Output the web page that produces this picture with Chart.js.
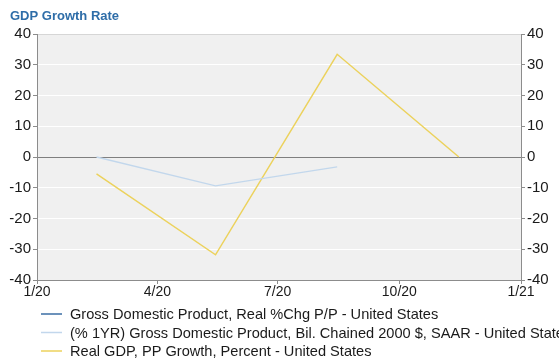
<!DOCTYPE html>
<html>
<head>
<meta charset="utf-8">
<script src="https://cdn.jsdelivr.net/npm/chart.js@4/dist/chart.umd.min.js"></script>
<style>
  html, body { margin: 0; padding: 0; background: #ffffff; }
  #wrap { position: relative; width: 559px; height: 360px; }
</style>
</head>
<body>
<div id="wrap"><canvas id="c" width="559" height="360"></canvas></div>
<script>
// Quarterly observations, dated at the middle of each quarter
const chartTitle = 'GDP Growth Rate';
const categories = ['2020-02-15', '2020-05-15', '2020-08-15', '2020-11-15'];
const realChgPP = [null, null, null, null];
const yoyChained = [0.0, -9.4, -3.2, null];
const realGdpPP = [-5.5, -31.8, 33.4, 0.0];
const seriesLabels = [
  'Gross Domestic Product, Real %Chg P/P - United States',
  '(% 1YR) Gross Domestic Product, Bil. Chained 2000 $, SAAR - United States',
  'Real GDP, PP Growth, Percent - United States'
];
const xTickDates = ['2020-01-01', '2020-04-01', '2020-07-01', '2020-10-01', '2021-01-01'];
const xTickLabels = ['1/20', '4/20', '7/20', '10/20', '1/21'];
const yMin = -40, yMax = 40, yStep = 10;

const origin = Date.parse('2020-01-01T00:00:00Z');
const dayOf = d => (Date.parse(d + 'T00:00:00Z') - origin) / 864e5;
const toPoints = vals => categories.map((d, i) => ({ x: dayOf(d), y: vals[i] }));

const FONT = "'Liberation Sans', Arial, sans-serif";

const plotBackground = {
  id: 'plotBackground',
  beforeDraw(chart) {
    const { ctx, chartArea: a } = chart;
    ctx.save();
    ctx.fillStyle = '#f0f0f0';
    ctx.fillRect(a.left, a.top, a.right - a.left, a.bottom - a.top);
    ctx.restore();
  }
};

const titleAndLegend = {
  id: 'titleAndLegend',
  afterDraw(chart) {
    const ctx = chart.ctx;
    ctx.save();
    ctx.font = 'bold 13px ' + FONT;
    ctx.fillStyle = '#2e6da8';
    ctx.textBaseline = 'alphabetic';
    ctx.fillText(chartTitle, 10, 19.5);

    ctx.font = '14.6px ' + FONT;
    ctx.textBaseline = 'middle';
    chart.data.datasets.forEach((ds, i) => {
      const y = 314 + i * 18.5;
      ctx.strokeStyle = ds.borderColor;
      ctx.lineWidth = 1.5;
      ctx.beginPath();
      ctx.moveTo(41, y);
      ctx.lineTo(62, y);
      ctx.stroke();
      ctx.fillStyle = '#1a1a1a';
      ctx.fillText(ds.label, 70, y + 1);
    });
    ctx.restore();
  }
};

const xFont = { family: FONT, size: 14 };
const yFont = { family: FONT, size: 15 };

new Chart(document.getElementById('c'), {
  type: 'line',
  data: {
    datasets: [
      { label: seriesLabels[0], data: toPoints(realChgPP), borderColor: '#3b6ea5', borderWidth: 1.2 },
      { label: seriesLabels[1], data: toPoints(yoyChained), borderColor: '#c2d7ec', borderWidth: 1.3 },
      { label: seriesLabels[2], data: toPoints(realGdpPP), borderColor: '#ecd25c', borderWidth: 1.5 }
    ]
  },
  options: {
    responsive: false,
    animation: false,
    devicePixelRatio: 1,
    spanGaps: false,
    layout: { padding: { left: 0, right: 0, top: 34, bottom: 60 } },
    elements: { point: { radius: 0, hoverRadius: 0 }, line: { tension: 0 } },
    plugins: { legend: { display: false }, title: { display: false }, tooltip: { enabled: false } },
    scales: {
      x: {
        type: 'linear',
        min: dayOf(xTickDates[0]),
        max: dayOf(xTickDates[xTickDates.length - 1]),
        afterBuildTicks: s => { s.ticks = xTickDates.map(d => ({ value: dayOf(d) })); },
        afterFit: s => { s.height = 20; },
        grid: { drawOnChartArea: false, drawTicks: true, tickLength: 4, tickColor: '#8c8c8c' },
        border: { color: '#8c8c8c', width: 1 },
        ticks: {
          autoSkip: false, maxRotation: 0, padding: 0,
          color: '#1a1a1a', font: xFont,
          callback: (v, i) => xTickLabels[i]
        }
      },
      y: {
        position: 'left',
        min: yMin, max: yMax,
        afterFit: s => { s.width = 37; },
        grid: {
          color: c => c.tick.value === 0 ? '#7f7f7f' : (c.tick.value === yMax ? '#d6d6d6' : (c.tick.value === yMin ? '#8c8c8c' : '#ffffff')),
          lineWidth: 1,
          tickLength: 4,
          tickColor: '#8c8c8c'
        },
        border: { color: '#8c8c8c', width: 1 },
        ticks: { stepSize: yStep, padding: 2, color: '#1a1a1a', font: yFont }
      },
      y2: {
        position: 'right',
        min: yMin, max: yMax,
        afterFit: s => { s.width = 38; },
        grid: { drawOnChartArea: false, tickLength: 4, tickColor: '#8c8c8c' },
        border: { color: '#8c8c8c', width: 1 },
        ticks: { stepSize: yStep, padding: 2, color: '#1a1a1a', font: yFont }
      }
    }
  },
  plugins: [plotBackground, titleAndLegend]
});
</script>
</body>
</html>
